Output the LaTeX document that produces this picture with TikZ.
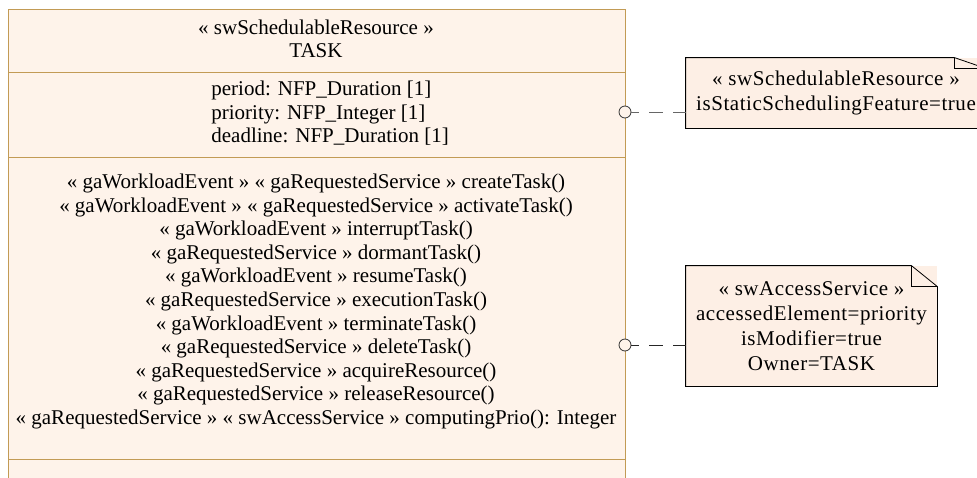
\documentclass[tikz,border=0pt]{standalone}
\usepackage{fontspec}
\setmainfont{Liberation Serif}
\usetikzlibrary{positioning}
\definecolor{classfill}{HTML}{FEF3EA}
\definecolor{classline}{HTML}{C29B55}
\definecolor{notefill}{HTML}{FDEFE5}
\begin{document}
\begin{tikzpicture}[x=1pt, y=-1pt, line width=0.8pt,
  txt/.style = {font=\fontsize{21}{23.6}\selectfont, inner sep=0pt, align=center},
  note/.style = {fill=notefill, inner sep=0pt, align=center, font=\fontsize{21}{25}\selectfont\addfontfeature{LetterSpace=2.6}},
  port/.style = {draw=black!80, fill=classfill, circle, minimum size=12pt, inner sep=0pt},
  link/.style = {draw=black!60, dash pattern=on 14pt off 10pt, dash phase=6pt}]
\clip (0,0) rectangle (977,477);
% class TASK
\draw[draw=classline, line width=1pt, fill=classfill] (8,9) rectangle (625,490);
\draw[classline, line width=1pt] (8,72) -- (625,72);
\draw[classline, line width=1pt] (8,157) -- (625,157);
\draw[classline, line width=1pt] (8,459) -- (625,459);
\node[txt] (head) at (316,39) {« swSchedulableResource »\\TASK};
\node[txt, align=left, anchor=west] (attrs) at (211,113.5) {period: NFP\_Duration [1]\\priority: NFP\_Integer [1]\\deadline: NFP\_Duration [1]};
\node[txt] (ops) at (316,301.5) {« gaWorkloadEvent » « gaRequestedService » createTask()\\
« gaWorkloadEvent » « gaRequestedService » activateTask()\\
« gaWorkloadEvent » interruptTask()\\
« gaRequestedService » dormantTask()\\
« gaWorkloadEvent » resumeTask()\\
« gaRequestedService » executionTask()\\
« gaWorkloadEvent » terminateTask()\\
« gaRequestedService » deleteTask()\\
« gaRequestedService » acquireResource()\\
« gaRequestedService » releaseResource()\\
« gaRequestedService » « swAccessService » computingPrio(): Integer};
% notes
\node[note, minimum width=300pt, minimum height=70pt] (sched) at (836,93) {« swSchedulableResource »\\isStaticSchedulingFeature=true};
\draw (sched.north west) -- ([xshift=-32pt]sched.north east) -- ([yshift=-11pt]sched.north east) -- (sched.south east) -- (sched.south west) -- cycle;
\draw ([xshift=-32pt]sched.north east) |- ([yshift=-11pt]sched.north east);
\node[note, minimum width=251pt, minimum height=120pt] (access) at (811.5,326) {« swAccessService »\\accessedElement=priority\\isModifier=true\\Owner=TASK};
\draw (access.north west) -- ([xshift=-26pt]access.north east) -- ([yshift=-21pt]access.north east) -- (access.south east) -- (access.south west) -- cycle;
\draw ([xshift=-26pt]access.north east) |- ([yshift=-21pt]access.north east);
% links
\node[port] (p1) at (625,112) {};
\node[port] (p2) at (625,345) {};
\draw[link] (p1) -- (p1 -| sched.west);
\draw[link, draw=black!85] (p2) -- (p2 -| access.west);
\end{tikzpicture}
\end{document}
